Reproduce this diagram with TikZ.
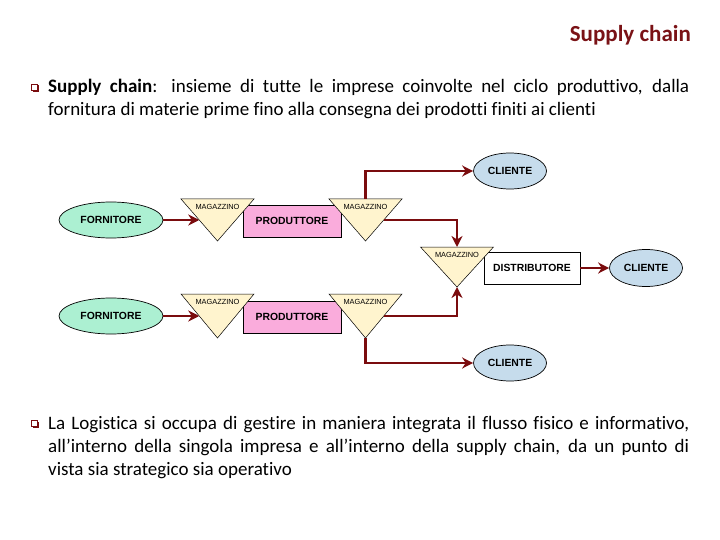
\documentclass[tikz,border=0pt]{standalone}
\usepackage{fontspec}
\setmainfont{Carlito}[Ligatures=NoCommon]
\newfontfamily\diagfont{Liberation Sans}
\usetikzlibrary{arrows.meta,shapes.geometric,calc}
\definecolor{dred}{RGB}{122,12,14}
\definecolor{titlered}{RGB}{122,18,22}
\definecolor{mint}{RGB}{172,240,210}
\definecolor{lblue}{RGB}{198,220,236}
\definecolor{pinkp}{RGB}{250,172,220}
\definecolor{ylw}{RGB}{255,244,206}
\tikzset{
  ell/.style={ellipse, draw=black, line width=0.7pt, inner sep=0pt,
    font=\diagfont\bfseries\fontsize{10.4}{12}\selectfont},
  boxnode/.style={rectangle, draw=black, line width=0.7pt, inner sep=0pt,
    minimum width=98pt, minimum height=32pt,
    font=\diagfont\bfseries\fontsize{10.4}{12}\selectfont},
  conn/.style={draw=dred, line width=2.8pt,
    -{Stealth[length=11pt,width=11pt,inset=3.5pt]}},
  tri/.style={fill=ylw, draw=black, line width=0.5pt},
  maglab/.style={font=\diagfont\fontsize{7.4}{8}\selectfont, inner sep=0pt},
  body/.style={anchor=base west, inner sep=0pt}
}
\newcommand\magtri[4]{%
  \filldraw[tri] ({#2-36.5},#3) coordinate (#1-l) -- ({#2+36.5},#3) coordinate (#1-r)
     -- (#2,{#3+#4}) coordinate (#1-apex) -- cycle;
  \coordinate (#1-top) at (#2,#3);
  \node[maglab] (#1) at (#2,{#3+7.5}) {MAGAZZINO};
  \coordinate (#1-lm) at ($(#1-l)!0.5!(#1-apex)$);
  \coordinate (#1-rm) at ($(#1-r)!0.5!(#1-apex)$);
}
\newcommand\bulletsq[2]{%
  \fill[dred] ({#1+1.5},{#2+1.5}) rectangle ({#1+8},{#2+8});
  \filldraw[fill=white, draw=dred, line width=0.8pt] (#1,#2) rectangle ({#1+6.5},{#2+6.5});
}
\begin{document}
\begin{tikzpicture}[x=1pt,y=-1pt]
\useasboundingbox (0,0) rectangle (720,540);

% title
\node[anchor=base east, inner sep=0pt, text=titlered,
      font=\bfseries\fontsize{23}{28}\selectfont] (title) at (691,42) {Supply chain};

% bullet 1
\bulletsq{31}{84}
\node[body] (b1) at (48,93) {\parbox[t]{641pt}{\fontsize{19}{23}\selectfont
  \makebox[641pt][s]{\textbf{Supply chain}: insieme di tutte le imprese coinvolte nel ciclo produttivo, dalla}\\
  fornitura di materie prime fino alla consegna dei prodotti finiti ai clienti}};

% diagram nodes
\node[ell, fill=mint, minimum width=104pt, minimum height=36pt] (f1) at (111,220) {FORNITORE};
\node[ell, fill=mint, minimum width=104pt, minimum height=36pt] (f2) at (111,316) {FORNITORE};
\node[boxnode, fill=pinkp] (p1) at (292,221) {PRODUTTORE};
\node[boxnode, fill=pinkp] (p2) at (292,317) {PRODUTTORE};
\node[boxnode, fill=white, minimum width=96pt] (d) at (532,268) {DISTRIBUTORE};
\node[ell, fill=lblue, minimum width=73pt, minimum height=36pt] (c1) at (510,171) {CLIENTE};
\node[ell, fill=lblue, minimum width=73pt, minimum height=37pt] (c2) at (646,268) {CLIENTE};
\node[ell, fill=lblue, minimum width=73pt, minimum height=36pt] (c3) at (510,363) {CLIENTE};

\magtri{m1}{217.5}{199}{42}
\magtri{m2}{365.5}{199}{42}
\magtri{m3}{457}{247}{40}
\magtri{m4}{217.5}{294}{44}
\magtri{m5}{365.5}{294}{44}

% connectors
\draw[conn] (f1.east) -- (f1.east -| m1-lm);
\draw[conn] (f2.east) -- (f2.east -| m4-lm);
\draw[conn] (m2-top) |- (c1.west);
\draw[conn] (m2-rm) -| (m3-top);
\draw[conn] (m5-rm) -| (m3-apex);
\draw[conn] (m5-apex) |- (c3.west);
\draw[conn] (d.east) -- (c2.west);

% bullet 2
\bulletsq{31}{420}
\node[body] (b2) at (48,429) {\parbox[t]{641pt}{\fontsize{19}{23}\selectfont
  \makebox[641pt][s]{La Logistica si occupa di gestire in maniera integrata il flusso fisico e informativo,}\\
  \makebox[641pt][s]{all’interno della singola impresa e all’interno della supply chain, da un punto di}\\
  vista sia strategico sia operativo}};
\end{tikzpicture}
\end{document}
